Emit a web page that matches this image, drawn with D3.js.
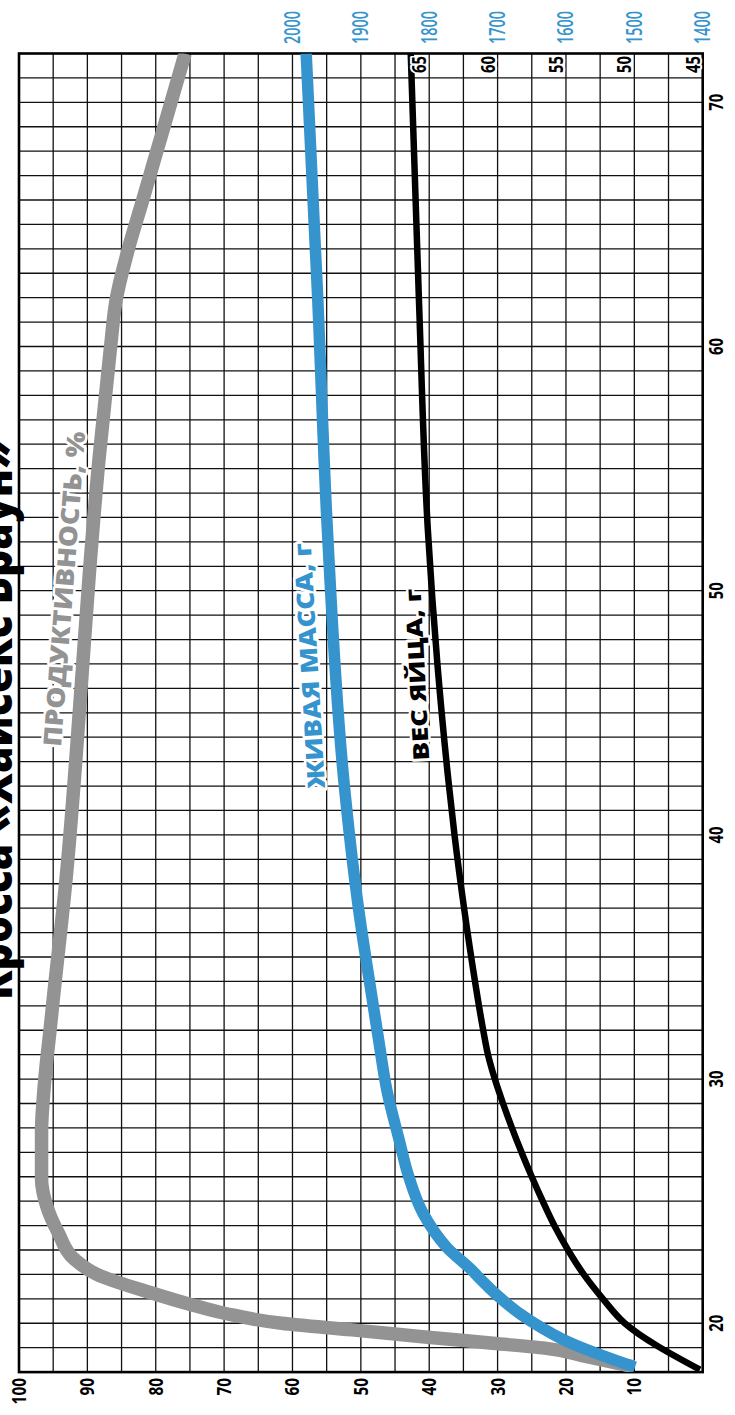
<!DOCTYPE html>
<html><head><meta charset="utf-8">
<script src="https://cdn.jsdelivr.net/npm/d3@7"></script>
<style>body{margin:0;background:#fff} svg{display:block}</style>
</head><body>
<svg id="c" width="735" height="1415"></svg>
<script>
// ---------- data ----------
const titleText = "Кросса «Хайсекс Браун»";
const weekTicks = [20, 30, 40, 50, 60, 70];
const prodTicks = [100, 90, 80, 70, 60, 50, 40, 30, 20, 10];
const massTicks = [2000, 1900, 1800, 1700, 1600, 1500, 1400];
const eggTicks = [65, 60, 55, 50, 45];

const prodWeeks  = [18.22, 18.63, 18.98, 19.18, 19.45, 19.73, 20.0, 20.4, 20.8, 21.2, 22.0, 22.6, 23.7, 24.8, 25.9, 27.9, 29.2, 30.5, 31.9, 33.25, 38.25, 46.1, 50.75, 55.8, 57.0, 60.0, 61.9, 64.0, 66.0, 69.0, 72.0];
const prodValues = [10.1, 16.9, 23.1, 30.7, 41.0, 51.3, 61.6, 69.8, 75.3, 80.1, 88.6, 91.8, 94.25, 95.95, 96.7, 96.7, 96.45, 96.05, 95.5, 95.0, 93.1, 90.9, 89.7, 88.15, 87.7, 86.6, 85.8, 84.0, 81.9, 78.8, 75.7];

const massWeeks  = [18.2, 19.2, 20.1, 21.8, 22.1, 23.1, 24.5, 26.1, 27.4, 29.55, 31.6, 34.1, 36.9, 42.25, 52.5, 61.9, 72.0];
const massValues = [1499, 1594, 1652, 1725, 1735, 1774, 1809, 1831, 1843, 1862, 1874, 1888, 1903, 1925, 1949, 1963, 1980];

const eggWeeks  = [18.1, 20.0, 21.0, 22.0, 23.0, 24.0, 25.0, 26.0, 27.0, 28.0, 29.0, 30.0, 31.0, 32.0, 34.0, 37.0, 40.0, 42.25, 47.0, 52.5, 61.9, 72.0];
const eggValues = [45.2, 50.7, 52.3, 53.7, 54.85, 55.85, 56.7, 57.5, 58.25, 58.95, 59.6, 60.2, 60.7, 61.05, 61.65, 62.45, 63.15, 63.6, 64.4, 65.1, 65.75, 66.35];

const seriesLabels = ["ПРОДУКТИВНОСТЬ, %", "ЖИВАЯ МАССА, г", "ВЕС ЯЙЦА, г"];

// ---------- scales ----------
const svg = d3.select("#c");
const yW = d3.scaleLinear().domain([18, 72]).range([1372.1, 53.5]);
const xP = d3.scaleLinear().domain([100, 0]).range([19, 702.7]);
const xM = d3.scaleLinear().domain([1400, 2000]).range([702.7, 292.5]);
const xE = d3.scaleLinear().domain([45, 65]).range([702.7, 429.2]);

const FONT = "'Open Sans', 'DejaVu Sans', sans-serif";
const GRAY = "#939393", BLUE = "#3593cd";

// ---------- grid ----------
const grid = svg.append("g");
grid.selectAll("line.h").data(d3.range(19, 72)).join("line")
  .attr("x1", xP(100)).attr("x2", xP(0))
  .attr("y1", d => yW(d)).attr("y2", d => yW(d))
  .attr("stroke", "#111").attr("stroke-width", 1.3);
grid.selectAll("line.v").data(d3.range(5, 100, 5)).join("line")
  .attr("y1", yW(18)).attr("y2", yW(72))
  .attr("x1", d => xP(d)).attr("x2", d => xP(d))
  .attr("stroke", "#111").attr("stroke-width", 1.3);
svg.append("rect")
  .attr("x", xP(100)).attr("y", yW(72))
  .attr("width", xP(0) - xP(100)).attr("height", yW(18) - yW(72))
  .attr("fill", "none").attr("stroke", "#000").attr("stroke-width", 2.6);

// ---------- clip ----------
svg.append("clipPath").attr("id", "plot").append("rect")
  .attr("x", xP(100)).attr("y", yW(72))
  .attr("width", xP(0) - xP(100)).attr("height", yW(18) - yW(72));

// rotated text, compressed/stretched along its direction to a target length
function rtext(g, x, y, ang, txt, o) {
  const t = g.append("text")
    .attr("font-family", FONT).attr("font-weight", o.weight || 700)
    .attr("font-size", o.size).attr("fill", o.fill || "#000")
    .attr("text-anchor", o.anchor || "start")
    .text(txt);
  if (o.halo) t.attr("stroke", "#fff").attr("stroke-width", o.halo)
     .attr("stroke-linejoin", "round").attr("paint-order", "stroke");
  let sx = 1;
  if (o.len) {
    const natural = t.node().getComputedTextLength();
    if (natural > 0) sx = o.len / natural;
  }
  t.attr("transform", `translate(${x},${y}) rotate(${ang}) scale(${sx},1)`);
  return t;
}

// ---------- lines ----------
const lines = svg.append("g").attr("clip-path", "url(#plot)");
function drawSeries(weeks, vals, xs, color, w) {
  const pts = weeks.map((wk, i) => [xs(vals[i]), yW(wk)]);
  lines.append("path")
    .attr("d", d3.line().curve(d3.curveMonotoneY)(pts))
    .attr("fill", "none").attr("stroke", color).attr("stroke-width", w)
    .attr("stroke-linejoin", "round");
}
drawSeries(prodWeeks, prodValues, xP, GRAY, 13.5);
drawSeries(massWeeks, massValues, xM, BLUE, 11.5);
drawSeries(eggWeeks, eggValues, xE, "#000", 6.5);

// ---------- axis labels ----------
const lab = svg.append("g");
massTicks.forEach(v => rtext(lab, xM(v) + 7.5, 44, -90, String(v),
  {size: 21, fill: BLUE, len: 33, weight: 600}));
eggTicks.forEach(v => rtext(lab, xE(v) - 3, 56, -90, String(v),
  {size: 19.5, anchor: "end", len: 17, halo: 4}));
weekTicks.forEach(v => rtext(lab, 723, yW(v), -90, String(v),
  {size: 19.5, anchor: "middle", len: 17}));
prodTicks.forEach(v => rtext(lab, xP(v) + 7, 1378, -90, String(v),
  {size: 19.5, anchor: "end", len: String(v).length * 8.8}));

// ---------- series labels ----------
rtext(lab, 61, 747, -85.6, seriesLabels[0], {size: 25, weight: 800, fill: GRAY, len: 316, halo: 5});
rtext(lab, 325, 788, -93.35, seriesLabels[1], {size: 24, weight: 800, fill: BLUE, len: 246, halo: 5});
rtext(lab, 429.3, 760, -92.9, seriesLabels[2], {size: 22, weight: 800, fill: "#000", len: 172, halo: 5});

// ---------- title (partly off-canvas, as in the reference) ----------
rtext(svg, 12, 1000, -90, titleText, {size: 48, weight: 800, len: 560});
</script>
</body></html>
